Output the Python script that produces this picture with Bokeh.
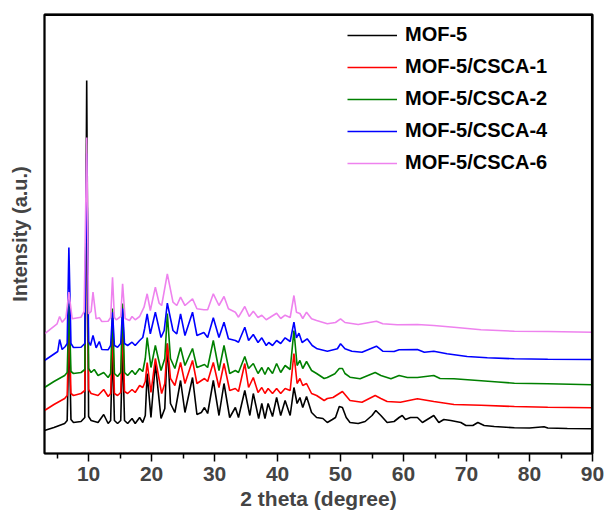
from bokeh.plotting import figure
from bokeh.models import Range1d, FixedTicker, Legend, LegendItem, LinearAxis
from bokeh.embed import file_html
from bokeh.resources import INLINE

# ---- data (2 theta in degree, intensity in a.u.) ----
mof5_x = [3.0, 4.5, 6.2, 6.6, 6.9, 7.2, 7.6, 8.8, 9.4, 9.7, 10.0, 10.4, 11.5, 12.4, 13.1, 13.5, 13.8, 14.1, 14.6, 15.1, 15.4, 15.7, 16.2, 16.9, 17.4, 18.1, 18.6, 19.0, 19.3, 19.9, 20.6, 21.5, 22.1, 22.5, 23.0, 23.7, 24.6, 25.3, 26.5, 27.2, 27.9, 28.4, 28.9, 29.8, 30.7, 31.5, 32.4, 33.3, 33.8, 34.8, 35.6, 36.15, 37.0, 37.5, 38.0, 38.5, 39.2, 39.85, 40.5, 41.2, 42.0, 42.6, 43.1, 43.55, 44.0, 44.6, 45.4, 46.2, 47.2, 47.9, 48.7, 49.2, 49.8, 50.3, 50.9, 51.5, 52.8, 53.9, 55.0, 55.6, 56.4, 57.4, 58.5, 59.3, 59.8, 60.3, 61.1, 62.2, 63.0, 64.8, 65.6, 66.4, 67.5, 69.1, 69.9, 71.0, 71.8, 72.8, 74.4, 77.6, 80.0, 82.3, 82.9, 86.0, 90.0]
mof5_y = [23, 26, 30, 33, 125, 34, 31, 32, 36, 373, 37, 33, 31, 39, 30, 33, 105, 33, 30, 33, 105, 33, 30, 35, 30, 36, 31, 38, 80, 36, 90, 35, 45, 110, 50, 41, 73, 41, 76, 39, 41, 46, 40, 73, 38, 70, 36, 46, 36, 63, 38, 60, 35, 50, 35, 50, 37, 56, 38, 53, 38, 66, 50, 56, 46, 57, 41, 36, 35, 31, 34, 36, 47, 46, 36, 31, 30, 32, 38, 43, 38, 31, 32, 36, 38, 34, 36, 36, 31, 38, 31, 34, 33, 31, 28, 28, 31, 28, 27, 25.7, 25.5, 26.8, 25.5, 25, 24.7]

csca1_x = [3.0, 4.5, 6.2, 6.6, 6.9, 7.2, 7.6, 8.8, 9.4, 9.7, 10.0, 10.4, 11.5, 12.4, 13.1, 13.5, 13.8, 14.1, 14.6, 15.1, 15.4, 15.7, 16.2, 16.9, 17.4, 18.1, 18.6, 19.0, 19.3, 19.9, 20.6, 21.6, 22.1, 22.5, 23.0, 23.7, 24.6, 25.3, 26.5, 27.2, 28.4, 28.9, 29.8, 30.7, 31.5, 32.4, 33.3, 33.8, 34.8, 35.4, 36.15, 36.9, 37.5, 38.0, 38.5, 39.2, 39.85, 40.5, 41.2, 42.0, 42.6, 43.1, 43.55, 44.0, 44.6, 45.4, 46.2, 47.4, 47.9, 48.8, 49.8, 50.3, 51.5, 53.4, 55.5, 56.4, 57.4, 59.5, 62.2, 64.8, 68.0, 72.3, 77.6, 82.9, 90.0]
csca1_y = [43, 49, 55, 58, 135, 60, 58, 60, 63, 300, 64, 60, 58, 64, 57, 60, 125, 60, 58, 61, 128, 62, 60, 64, 61, 68, 66, 72, 91, 61, 95, 60, 70, 110, 75, 68, 91, 70, 93, 70, 75, 72, 91, 66, 90, 63, 65, 62, 90, 66, 76, 61, 66, 60, 65, 60, 65, 60, 65, 63, 100, 70, 75, 68, 70, 60, 58, 53, 55, 56, 60, 62, 53, 51.3, 58, 55, 52, 51.3, 54.7, 52, 49, 48.3, 47, 46.3, 45.7]

csca2_x = [3.0, 4.5, 6.2, 6.6, 6.9, 7.2, 7.6, 8.8, 9.4, 9.7, 10.0, 10.4, 10.9, 11.5, 12.4, 13.1, 13.5, 13.8, 14.1, 14.6, 15.1, 15.4, 15.7, 16.2, 16.9, 17.4, 18.1, 18.6, 19.0, 19.3, 19.9, 20.6, 21.5, 22.1, 22.5, 23.0, 23.7, 24.6, 25.3, 26.5, 27.2, 28.4, 28.9, 29.8, 30.7, 31.5, 32.4, 33.3, 33.8, 34.8, 35.4, 36.15, 36.9, 37.5, 38.0, 38.5, 39.2, 39.85, 40.5, 41.2, 42.0, 42.6, 43.1, 43.55, 44.0, 44.6, 45.4, 46.2, 47.4, 47.9, 49.1, 49.8, 50.3, 50.7, 51.5, 53.1, 55.5, 56.4, 58.0, 59.3, 60.6, 62.2, 64.8, 65.8, 68.0, 71.8, 75.0, 77.6, 82.9, 90.0]
csca2_y = [66, 72, 78, 81, 150, 82, 80, 81, 84, 310, 85, 81, 84, 78, 81, 76, 80, 145, 80, 77, 81, 150, 81, 78, 83, 79, 85, 82, 95, 116, 86, 108, 83, 95, 140, 95, 85, 106, 88, 105, 86, 89, 86, 113, 83, 108, 80, 83, 81, 97, 85, 90, 80, 86, 79, 86, 80, 90, 81, 88, 84, 123, 88, 93, 85, 92, 83, 80, 75, 76, 79.7, 85, 85, 80, 76.3, 74.7, 81, 78, 74.7, 78, 76, 76, 78, 75, 74.7, 73, 71.5, 70.3, 69.7, 68.7]

csca4_x = [3.0, 5.1, 5.4, 5.8, 6.3, 6.6, 6.87, 7.2, 7.6, 8.8, 9.4, 9.7, 10.0, 10.3, 10.7, 11.2, 11.7, 12.1, 13.1, 13.5, 13.8, 14.1, 14.6, 15.1, 15.4, 15.7, 16.2, 16.9, 17.4, 18.1, 18.6, 18.9, 19.3, 19.8, 20.6, 21.5, 22.0, 22.5, 23.4, 24.0, 24.6, 25.3, 26.5, 27.2, 28.3, 28.9, 29.8, 30.7, 31.5, 32.2, 33.3, 33.8, 34.8, 35.4, 36.15, 36.9, 37.5, 38.2, 38.6, 39.2, 39.85, 40.5, 41.2, 42.0, 42.6, 43.0, 43.4, 43.9, 44.7, 45.5, 46.3, 47.9, 49.5, 50.0, 50.7, 51.8, 53.4, 55.7, 56.7, 58.5, 59.3, 62.2, 63.3, 64.8, 66.9, 70.1, 73.3, 77.6, 82.9, 90.0]
csca4_y = [93, 102, 114, 104, 107, 110, 206, 110, 106, 106.3, 110, 300, 112, 108, 118, 105.7, 112, 104, 103.7, 108, 141.3, 108, 106.3, 110, 145, 110, 108, 111.3, 108, 113, 116, 125, 139.7, 119.7, 141.3, 116, 123, 150.3, 123, 119.7, 139.7, 118, 141.3, 118, 121, 116, 135.7, 116, 131.3, 114.7, 113, 111.3, 126.3, 113, 119, 111, 115.7, 108, 111, 108, 113, 110, 115.7, 112, 131.3, 115.7, 120.3, 111, 114.7, 108, 104.7, 102.3, 104.7, 109.7, 104.7, 102.3, 101.3, 107.3, 102.3, 102, 103.7, 104, 101.3, 102.3, 99.7, 97, 95.7, 94.7, 94.3, 94]

csca6_x = [3.0, 5.0, 5.4, 5.8, 6.4, 6.87, 7.4, 8.8, 9.3, 9.7, 10.0, 10.4, 10.7, 11.2, 11.7, 12.1, 13.1, 13.5, 13.8, 14.1, 14.4, 15.1, 15.4, 15.8, 16.5, 16.9, 17.4, 18.1, 18.8, 19.3, 19.8, 20.6, 21.2, 21.6, 22.5, 23.4, 24.0, 24.6, 25.3, 26.5, 27.2, 28.3, 28.9, 29.8, 30.7, 31.5, 32.2, 33.3, 33.8, 34.8, 35.5, 36.15, 36.9, 37.5, 38.2, 39.85, 40.5, 41.2, 42.0, 42.6, 43.0, 43.55, 44.0, 44.6, 45.4, 46.2, 47.9, 49.2, 50.0, 50.7, 52.8, 55.7, 56.7, 59.0, 62.2, 64.8, 68.0, 72.3, 77.6, 82.9, 90.0]
csca6_y = [119.7, 129.7, 137, 131.3, 135.7, 161.3, 134.7, 136.3, 142, 316, 139.7, 142, 161.3, 134.7, 135.7, 132, 132.3, 136, 176.3, 136, 133.7, 137, 169.7, 135, 133, 137, 133.7, 137, 146.3, 159.7, 143, 166.3, 150.3, 148, 179.7, 151.3, 148, 156.3, 148, 154.7, 144.7, 143.7, 143.7, 159.7, 148, 157, 144.7, 141.3, 136.3, 147, 137, 142.3, 136, 138.3, 133.7, 140.3, 135, 138.3, 136, 158, 141.3, 140, 135, 141.3, 134.7, 133, 129.7, 131, 134.7, 131, 129, 132.3, 129.7, 128.7, 129, 128, 126.3, 123.7, 122.3, 122, 121.3]

series_names = ["MOF-5", "MOF-5/CSCA-1", "MOF-5/CSCA-2", "MOF-5/CSCA-4", "MOF-5/CSCA-6"]
series_colors = ["#000000", "#ff0000", "#008000", "#0000ff", "#ee82ee"]
x_ticks = [10, 20, 30, 40, 50, 60, 70, 80, 90]
x_minor = [5, 15, 25, 35, 45, 55, 65, 75, 85]
X_START, X_END = 3, 90
Y_START, Y_END = 0, 439

FONT = "Liberation Sans"

p = figure(width=608, height=522, output_backend="svg", toolbar_location=None,
           x_range=Range1d(X_START, X_END), y_range=Range1d(Y_START, Y_END),
           min_border_left=44, min_border_right=16, min_border_top=14, min_border_bottom=69)
p.background_fill_color = "white"
p.border_fill_color = "white"
p.xgrid.visible = False
p.ygrid.visible = False
p.outline_line_color = "black"
p.outline_line_width = 2

renderers = []
for xs, ys, c in zip([mof5_x, csca1_x, csca2_x, csca4_x, csca6_x],
                     [mof5_y, csca1_y, csca2_y, csca4_y, csca6_y], series_colors):
    r = p.line(xs, ys, line_color=c, line_width=1.6)
    renderers.append(r)

# top and right axes used only as frame lines (real ticks, but invisible tick marks and labels)
top_axis = LinearAxis(ticker=FixedTicker(ticks=x_ticks), axis_line_color="black", axis_line_width=1.5,
                      major_tick_line_color=None, minor_tick_line_color=None,
                      major_tick_in=0, major_tick_out=0, major_label_text_color="white",
                      major_label_text_alpha=0, major_label_text_font_size="1px",
                      major_label_standoff=0)
right_axis = LinearAxis(ticker=FixedTicker(ticks=[100, 200, 300]), axis_line_color="black",
                        axis_line_width=1.5, major_tick_line_color=None, minor_tick_line_color=None,
                        major_tick_in=0, major_tick_out=0, major_label_text_color="white",
                        major_label_text_alpha=0, major_label_text_font_size="1px",
                        major_label_standoff=0)
p.add_layout(top_axis, "above")
p.add_layout(right_axis, "right")

# extra frame line drawn as a glyph just inside the plot area
p.line([X_START, X_END - 0.12, X_END - 0.12], [Y_END - 0.8, Y_END - 0.8, Y_START],
       line_color="black", line_width=1.6)

items = [LegendItem(label=n, renderers=[r]) for n, r in zip(series_names, renderers)]
legend = Legend(items=items, location=(303, 279), padding=0, margin=0,
                glyph_width=50, glyph_height=20, label_height=20, spacing=9,
                label_standoff=8, border_line_color=None, background_fill_alpha=0,
                label_text_font=FONT, label_text_font_style="bold",
                label_text_font_size="20px", label_text_color="black")
p.add_layout(legend)

xa = p.below[0]
xa.ticker = FixedTicker(ticks=x_ticks, minor_ticks=x_minor)
xa.axis_line_width = 1.5
xa.major_tick_line_width = 1.5
xa.minor_tick_line_width = 1.5
xa.major_tick_in = 0
xa.major_tick_out = 8
xa.minor_tick_in = 0
xa.minor_tick_out = 5
xa.major_label_text_font = FONT
xa.major_label_text_font_style = "bold"
xa.major_label_text_font_size = "21px"
xa.major_label_standoff = 5
xa.axis_label = "2 theta (degree)"
xa.axis_label_text_font = FONT
xa.axis_label_text_font_style = "bold"
xa.axis_label_text_font_size = "21px"
xa.axis_label_standoff = 3

ya = p.left[0]
ya.ticker = FixedTicker(ticks=[])
ya.axis_line_width = 1.5
ya.major_tick_line_color = None
ya.minor_tick_line_color = None
ya.axis_label = "Intensity (a.u.)"
ya.axis_label_text_font = FONT
ya.axis_label_text_font_style = "bold"
ya.axis_label_text_font_size = "20px"
ya.axis_label_standoff = 14

open("out.html", "w").write(file_html(p, INLINE))
